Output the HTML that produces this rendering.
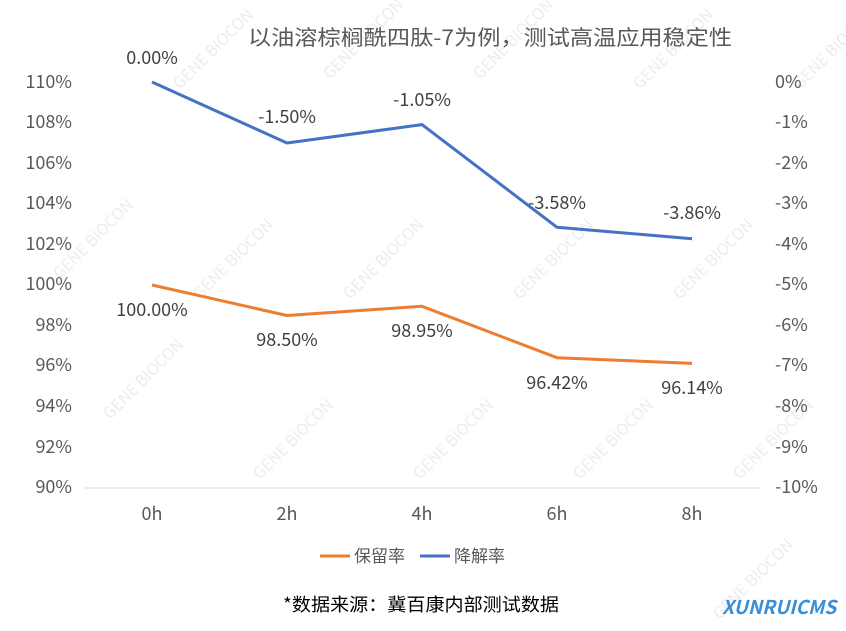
<!DOCTYPE html>
<html><head><meta charset="utf-8"><style>
body{margin:0;background:#fff;}
svg{display:block;font-family:"Noto Sans CJK SC","Liberation Sans",sans-serif;}
</style></head><body>
<svg width="846" height="631" viewBox="0 0 846 631">
<rect width="846" height="631" fill="#fff"/>
<g fill="#ececec" font-size="16">
<text transform="translate(180,90) rotate(-45)">GENE BIOCON</text>
<text transform="translate(330,80) rotate(-45)">GENE BIOCON</text>
<text transform="translate(480,80) rotate(-45)">GENE BIOCON</text>
<text transform="translate(640,90) rotate(-45)">GENE BIOCON</text>
<text transform="translate(800,90) rotate(-45)">GENE BIOCON</text>
<text transform="translate(60,280) rotate(-45)">GENE BIOCON</text>
<text transform="translate(200,300) rotate(-45)">GENE BIOCON</text>
<text transform="translate(350,300) rotate(-45)">GENE BIOCON</text>
<text transform="translate(520,300) rotate(-45)">GENE BIOCON</text>
<text transform="translate(680,300) rotate(-45)">GENE BIOCON</text>
<text transform="translate(110,420) rotate(-45)">GENE BIOCON</text>
<text transform="translate(260,480) rotate(-45)">GENE BIOCON</text>
<text transform="translate(420,480) rotate(-45)">GENE BIOCON</text>
<text transform="translate(580,480) rotate(-45)">GENE BIOCON</text>
<text transform="translate(740,480) rotate(-45)">GENE BIOCON</text>
<text transform="translate(720,620) rotate(-45)">GENE BIOCON</text>
</g>
<text x="248" y="45" textLength="484" lengthAdjust="spacingAndGlyphs" font-size="21" fill="#595959">以油溶棕榈酰四肽-7为例，测试高温应用稳定性</text>
<g font-size="18" fill="#595959" text-anchor="end">
<text x="72" y="88">110%</text><text x="72" y="128">108%</text><text x="72" y="169">106%</text>
<text x="72" y="209">104%</text><text x="72" y="250">102%</text><text x="72" y="290">100%</text>
<text x="72" y="331">98%</text><text x="72" y="371">96%</text><text x="72" y="412">94%</text>
<text x="72" y="453">92%</text><text x="72" y="493">90%</text>
</g>
<g font-size="18" fill="#595959">
<text x="775" y="88">0%</text><text x="775" y="128">-1%</text><text x="775" y="169">-2%</text>
<text x="775" y="209">-3%</text><text x="775" y="250">-4%</text><text x="775" y="290">-5%</text>
<text x="775" y="331">-6%</text><text x="775" y="371">-7%</text><text x="775" y="412">-8%</text>
<text x="775" y="453">-9%</text><text x="775" y="493">-10%</text>
</g>
<line x1="85" y1="488" x2="760" y2="488" stroke="#d9d9d9" stroke-width="1"/>
<g font-size="18" fill="#595959" text-anchor="middle">
<text x="152" y="520">0h</text><text x="287" y="520">2h</text><text x="422" y="520">4h</text><text x="557" y="520">6h</text><text x="692" y="520">8h</text>
</g>
<polyline points="152,82 287,143 422,124.6 557,227.3 692,238.7" fill="none" stroke="#4472c4" stroke-width="3" stroke-linejoin="round"/>
<polyline points="152,285 287,315.5 422,306.3 557,357.7 692,363.4" fill="none" stroke="#ed7d31" stroke-width="3" stroke-linejoin="round"/>
<g font-size="18" fill="#404040" text-anchor="middle">
<text x="152" y="64">0.00%</text><text x="287" y="123">-1.50%</text><text x="422" y="106">-1.05%</text>
<text x="557" y="209">-3.58%</text><text x="692" y="219">-3.86%</text>
<text x="152" y="316">100.00%</text><text x="287" y="346">98.50%</text><text x="422" y="337">98.95%</text>
<text x="557" y="389">96.42%</text><text x="692" y="394">96.14%</text>
</g>
<line x1="320" y1="556" x2="350" y2="556" stroke="#ed7d31" stroke-width="3"/>
<text x="354" y="562" font-size="17" fill="#595959">保留率</text>
<line x1="420" y1="556" x2="450" y2="556" stroke="#4472c4" stroke-width="3"/>
<text x="454" y="562" font-size="17" fill="#595959">降解率</text>
<text x="283" y="611" textLength="276" lengthAdjust="spacingAndGlyphs" font-size="18" fill="#000">*数据来源：冀百康内部测试数据</text>
<text x="722" y="614" font-size="19" font-weight="bold" fill="#3a8fd6" font-style="italic">XUNRUICMS</text>
</svg>
</body></html>
